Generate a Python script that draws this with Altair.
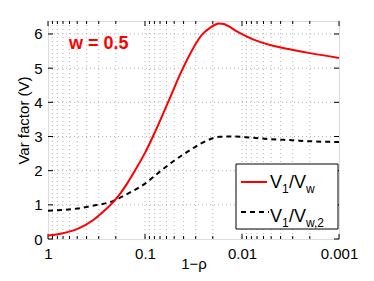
import altair as alt
import pandas as pd

# ---- data ----
x_red = [1.0, 0.700, 0.502, 0.344, 0.258, 0.214, 0.181, 0.153, 0.127, 0.1, 0.0828, 0.0579, 0.0406,
         0.0258, 0.0209, 0.0190, 0.0173, 0.01534, 0.0136, 0.01153, 0.00931, 0.0077,
         0.00502, 0.00305, 0.00199, 0.001]
y_red = [0.10, 0.17, 0.29, 0.55, 0.85, 1.07, 1.32, 1.62, 2.0, 2.52, 3.0, 4.0, 5.0,
         5.98, 6.20, 6.27, 6.31, 6.29, 6.22, 6.09, 5.95, 5.84,
         5.67, 5.54, 5.44, 5.30]

x_blk = [1.0, 0.502, 0.369, 0.214, 0.150, 0.1, 0.0684, 0.0502, 0.0352, 0.0271, 0.0169, 0.0124,
         0.00827, 0.00502, 0.00305, 0.00199, 0.001]
y_blk = [0.83, 0.89, 0.96, 1.11, 1.33, 1.62, 2.0, 2.29, 2.58, 2.78, 2.99, 3.0,
         2.97, 2.92, 2.89, 2.86, 2.84]

x_major = [1, 0.1, 0.01, 0.001]
x_minor = [m * 10.0 ** e for e in (-1, -2, -3) for m in range(2, 10)]
y_ticks = [0, 1, 2, 3, 4, 5, 6]

W, H = 291, 218
FONT = "Liberation Sans"

xs = alt.Scale(type="log", domain=[0.001, 1], reverse=True)
ys = alt.Scale(domain=[0, 6.38], nice=False, zero=False)

x_axis = alt.Axis(values=x_major, format="~g", title="1\u2212\u03c1", ticks=False, domain=False,
                  grid=False, labelFont=FONT, labelFontSize=15, labelColor="black",
                  labelPadding=7, titleFont=FONT, titleFontSize=15, titleFontWeight="normal",
                  titleColor="black", titleBaseline="alphabetic", titleY=29,
                  labelFlush=False, labelOverlap=False)
y_axis = alt.Axis(values=y_ticks, format="d", title="Var factor (V)", ticks=False, domain=False,
                  grid=False, labelFont=FONT, labelFontSize=15, labelColor="black",
                  labelPadding=6, titleFont=FONT, titleFontSize=15, titleFontWeight="normal",
                  titleColor="black", titleBaseline="middle", titleX=-25, titleY=99)


def X():
    return alt.X("x:Q", scale=xs, axis=x_axis)


def Y():
    return alt.Y("y:Q", scale=ys, axis=y_axis)


red_df = pd.DataFrame({"x": x_red, "y": y_red})
blk_df = pd.DataFrame({"x": x_blk, "y": y_blk})
maj_df = pd.DataFrame({"x": x_major})
min_df = pd.DataFrame({"x": x_minor})
yt_df = pd.DataFrame({"y": y_ticks})
one = pd.DataFrame({"a": [0]})

grid_col = "#b4b4b4"

vgrid = alt.Chart(pd.DataFrame({"x": x_minor + x_major[1:3]})).mark_rule(
    color=grid_col, strokeDash=[1, 3], strokeWidth=1
).encode(x=X())

hgrid = alt.Chart(pd.DataFrame({"y": y_ticks[1:]})).mark_rule(
    color=grid_col, strokeDash=[1, 3], strokeWidth=1
).encode(y=Y())

# inward ticks
minor_bot = alt.Chart(min_df).mark_rule(color="black").encode(x=X(), y=alt.value(H), y2=alt.value(H - 3))
minor_top = alt.Chart(min_df).mark_rule(color="black").encode(x=X(), y=alt.value(0), y2=alt.value(3))
major_bot = alt.Chart(maj_df).mark_rule(color="black").encode(x=X(), y=alt.value(H), y2=alt.value(H - 5))
major_top = alt.Chart(maj_df).mark_rule(color="black").encode(x=X(), y=alt.value(0), y2=alt.value(5))
yt_left = alt.Chart(yt_df).mark_rule(color="black").encode(y=Y(), x=alt.value(0), x2=alt.value(5))
yt_right = alt.Chart(yt_df).mark_rule(color="black").encode(y=Y(), x=alt.value(W), x2=alt.value(W - 5))

red = alt.Chart(red_df).mark_line(color="#ff0000", strokeWidth=2, interpolate="monotone").encode(x=X(), y=Y())
blk = alt.Chart(blk_df).mark_line(color="black", strokeWidth=2, strokeDash=[5, 4],
                                  interpolate="monotone").encode(x=X(), y=Y())

# annotation
wlabel = alt.Chart(one).mark_text(text="w = 0.5", color="#ff0000", font=FONT, fontSize=18,
                                  fontWeight="bold", align="left", baseline="alphabetic").encode(
    x=alt.value(21), y=alt.value(28))

# legend box
lx0, lx1, ly0, ly1 = 188, 290, 143, 208
box = alt.Chart(one).mark_rect(fill="white", stroke="black", strokeWidth=1).encode(
    x=alt.value(lx0), x2=alt.value(lx1), y=alt.value(ly0), y2=alt.value(ly1))
leg_red = alt.Chart(one).mark_rule(color="#ff0000", strokeWidth=2).encode(
    x=alt.value(193), x2=alt.value(219), y=alt.value(161))
leg_blk = alt.Chart(one).mark_rule(color="black", strokeWidth=2, strokeDash=[5, 4]).encode(
    x=alt.value(193), x2=alt.value(221), y=alt.value(191))


def piece(txt, x, y, size):
    return alt.Chart(one).mark_text(text=txt, font=FONT, fontSize=size, color="black",
                                    align="left", baseline="alphabetic").encode(
        x=alt.value(x), y=alt.value(y))


legend_text = [
    piece("V", 222, 167, 18), piece("1", 234, 172, 12), piece("/V", 241, 167, 18), piece("w", 258, 172, 12),
    piece("V", 222, 201, 18), piece("1", 234, 206, 12), piece("/V", 241, 201, 18), piece("w,2", 258, 206, 12),
]

chart = alt.layer(
    vgrid, hgrid, minor_bot, minor_top, major_bot, major_top, yt_left, yt_right,
    blk, red, wlabel, box, leg_red, leg_blk, *legend_text
).properties(
    width=W, height=H,
    autosize=alt.AutoSizeParams(type="none"),
    padding={"left": 40, "top": 13, "right": 27, "bottom": 34},
).configure_view(stroke="black", strokeWidth=1.2).configure(background="white")

chart.save("out.html", embed_options={"renderer": "svg", "actions": False})
